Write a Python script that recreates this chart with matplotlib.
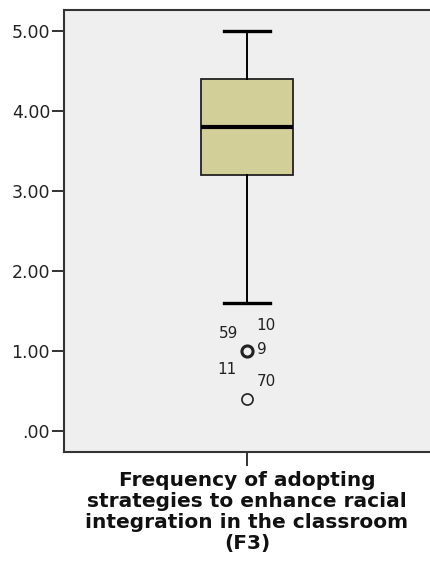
import matplotlib
matplotlib.use("Agg")
import matplotlib.pyplot as plt

# Data
category = "Frequency of adopting\nstrategies to enhance racial\nintegration in the classroom\n(F3)"
q1, median, q3 = 3.2, 3.8, 4.4
whisker_low, whisker_high = 1.6, 5.0
outlier_values = [1.0, 1.0, 1.0, 1.0, 0.4]
outlier_labels = ["59", "10", "9", "11", "70"]
yticks = [0, 1, 2, 3, 4, 5]
yticklabels = [".00", "1.00", "2.00", "3.00", "4.00", "5.00"]

plt.rcParams['font.family'] = ['DejaVu Sans']

fig = plt.figure(figsize=(4.3, 5.65), dpi=100)
ax = fig.add_axes([64/430, 113/565, 366/430, 442/565])
ax.set_facecolor('#efefef')

stats = [dict(med=median, q1=q1, q3=q3, whislo=whisker_low, whishi=whisker_high,
              fliers=[], label="")]
ax.bxp(stats, positions=[1], widths=0.25, patch_artist=True, showfliers=False,
       boxprops=dict(facecolor='#d3cf99', edgecolor='#222222', linewidth=1.3),
       medianprops=dict(color='black', linewidth=3),
       whiskerprops=dict(color='black', linewidth=1.4),
       capprops=dict(color='black', linewidth=2.4),
       capwidths=0.125)

# outliers
ax.plot([1]*len(outlier_values), outlier_values, linestyle='none', marker='o',
        markersize=8, markerfacecolor='none', markeredgecolor='#222222',
        markeredgewidth=1.2)
# thicker look for overlapped point
ax.plot([1], [1.0], linestyle='none', marker='o', markersize=8,
        markerfacecolor='none', markeredgecolor='#222222', markeredgewidth=2.2)

label_offsets = {"59": (-18, 17), "10": (19, 25), "9": (15, 1),
                 "11": (-20, -18), "70": (19, 18)}
for v, lab in zip(outlier_values, outlier_labels):
    dx, dy = label_offsets[lab]
    ax.annotate(lab, (1, v), xytext=(dx, dy), textcoords='offset pixels',
                ha='center', va='center', fontsize=11, color='#222222')

ax.set_xlim(0.5, 1.5)
ax.set_ylim(-0.2625, 5.2625)
ax.set_yticks(yticks)
ax.set_yticklabels(yticklabels, fontsize=12.5, color='#222222')
ax.set_xticks([1])
ax.set_xticklabels([category], fontsize=14.5, fontweight='bold', color='#111111',
                   linespacing=1.12)
ax.tick_params(axis='y', length=9, width=1.3, color='#222222', pad=1)
ax.tick_params(axis='x', length=10, width=1.3, color='#222222', pad=4)

for s in ['left', 'bottom', 'top']:
    ax.spines[s].set_color('#333333')
    ax.spines[s].set_linewidth(1.5)
ax.spines['right'].set_visible(False)

fig.savefig('out.png', dpi=100)
